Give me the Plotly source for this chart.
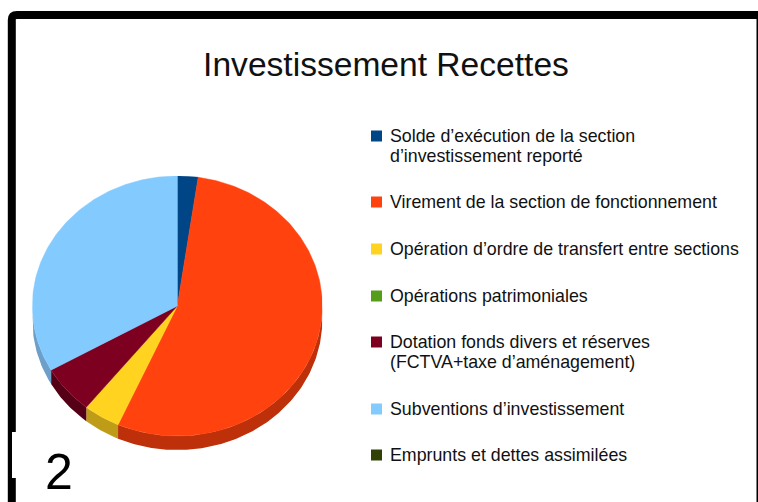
import numpy as np
import plotly.graph_objects as go

W, H = 758, 502

labels = [
    "Solde d’exécution de la section<br>d’investissement reporté",
    "Virement de la section de fonctionnement",
    "Opération d’ordre de transfert entre sections",
    "Opérations patrimoniales",
    "Dotation fonds divers et réserves<br>(FCTVA+taxe d’aménagement)",
    "Subventions d’investissement",
    "Emprunts et dettes assimilées",
]
values = [2.3, 54.4, 4.1, 0, 6.0, 33.2, 0]
colors = ["#004586", "#ff420e", "#ffd320", "#579d1c", "#7e0021", "#83caff", "#314004"]
rim_colors = ["#003366", "#bd300a", "#bf9c18", "#416f15", "#560018", "#6d9fc8", "#222d03"]
legend_y = [136, 202, 249, 296, 342, 409, 455]

# epaisseur du bord 3D, en unites de l'axe y (rayon = 1)
DEPTH = 14 / 130


def px_x(x):
    return x / W


def px_y(y):
    return 1 - y / H


def arc(t0, t1):
    t = np.radians(np.linspace(t0, t1, max(int(abs(t1 - t0)) + 2, 2)))
    return np.sin(t), np.cos(t)


fig = go.Figure()

total = sum(values)
edges = np.cumsum([0] + values) / total * 360

# bord du disque (seulement la moitie avant, 90 a 270 degres)
for i in range(len(values)):
    t0, t1 = max(edges[i], 90), min(edges[i + 1], 270)
    if t1 <= t0:
        continue
    ax, ay = arc(t0, t1)
    fig.add_trace(go.Scatter(
        x=np.r_[ax, ax[::-1]],
        y=np.r_[ay, ay[::-1] - DEPTH],
        mode="lines", fill="toself", fillcolor=rim_colors[i],
        line=dict(width=0), hoverinfo="skip",
    ))

# parts du camembert
for i in range(len(values)):
    if values[i] == 0:
        continue
    ax, ay = arc(edges[i], edges[i + 1])
    fig.add_trace(go.Scatter(
        x=np.r_[0, ax, 0],
        y=np.r_[0, ay, 0],
        mode="lines", fill="toself", fillcolor=colors[i],
        line=dict(width=0.5, color=colors[i]),
        name=labels[i].replace("<br>", " "),
        hovertemplate="%{fullData.name}<extra></extra>",
    ))

shapes = [
    # cadre noir de la diapositive
    dict(type="path", xref="paper", yref="paper",
         path=(f"M {px_x(11.8)} {px_y(505)} L {px_x(11.8)} {px_y(20)} "
               f"Q {px_x(11.8)} {px_y(15)} {px_x(17)} {px_y(15)} "
               f"L {px_x(770)} {px_y(15)}"),
         line=dict(color="black", width=8), layer="below"),
    dict(type="rect", xref="paper", yref="paper",
         x0=px_x(756.5), x1=px_x(760), y0=px_y(510), y1=px_y(12),
         fillcolor="black", line=dict(width=0), layer="below"),
    # cache blanc du numero de page
    dict(type="rect", xref="paper", yref="paper",
         x0=px_x(12), x1=px_x(80), y0=px_y(478), y1=px_y(432),
         fillcolor="white", line=dict(width=0), layer="below"),
]
annotations = [
    dict(text="2", xref="paper", yref="paper", x=px_x(59), y=px_y(472),
         xanchor="center", yanchor="middle", showarrow=False,
         font=dict(size=50, color="black")),
]

# legende faite a la main, l'espacement n'est pas regulier
for i, label in enumerate(labels):
    y0 = legend_y[i]
    shapes.append(dict(type="rect", xref="paper", yref="paper",
                       x0=px_x(371), x1=px_x(382), y0=px_y(y0 + 5.5), y1=px_y(y0 - 5.5),
                       fillcolor=colors[i], line=dict(width=0)))
    for j, line in enumerate(label.split("<br>")):
        annotations.append(dict(text=line, xref="paper", yref="paper",
                                x=px_x(390), y=px_y(y0 + j * 20),
                                xanchor="left", yanchor="middle", showarrow=False,
                                xshift=-2,
                                font=dict(size=17.8, color="#111111")))

fig.update_layout(
    width=W, height=H,
    margin=dict(l=0, r=0, t=0, b=0),
    paper_bgcolor="white", plot_bgcolor="white",
    font=dict(family="Liberation Sans"),
    showlegend=False,
    title=dict(text="Investissement Recettes", x=386 / W, xanchor="center",
               y=px_y(64), yanchor="middle",
               font=dict(size=33.6, color="#111111")),
    xaxis=dict(visible=False, range=[-1, 1], domain=[px_x(32.3), px_x(322.3)], fixedrange=True),
    yaxis=dict(visible=False, range=[-1 - DEPTH, 1], domain=[px_y(450), px_y(176)], fixedrange=True),
    shapes=shapes,
    annotations=annotations,
)

fig.write_html("out.html", config=dict(displayModeBar=False),
               post_script="document.body.style.margin='0';document.body.style.overflow='hidden';")
